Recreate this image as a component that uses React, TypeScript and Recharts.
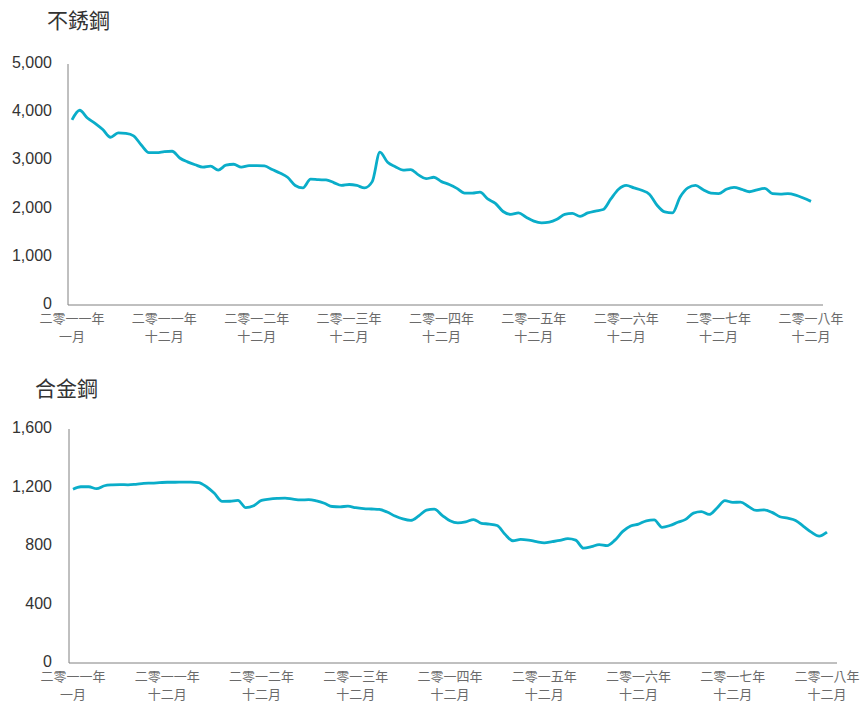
import { LineChart, Line, XAxis, YAxis } from 'recharts'

// monthly index 0..96, labelled every 12 months
const tickIdx = [0, 12, 24, 36, 48, 60, 72, 84, 96]
const yearLabels = [
  '二零一一年', '二零一一年', '二零一二年', '二零一三年', '二零一四年',
  '二零一五年', '二零一六年', '二零一七年', '二零一八年',
]
const monthLabels = ['一月', '十二月', '十二月', '十二月', '十二月', '十二月', '十二月', '十二月', '十二月']

const stainless = [
  3840, 4040, 3880, 3770, 3640, 3480, 3570, 3560, 3510, 3320, 3160, 3160,
  3180, 3190, 3050, 2970, 2910, 2860, 2880, 2800, 2900, 2920, 2860, 2890,
  2890, 2885, 2810, 2740, 2650, 2480, 2430, 2610, 2600, 2595, 2540, 2480,
  2500, 2480, 2430, 2560, 3170, 2960, 2870, 2800, 2810, 2700, 2620, 2650,
  2560, 2500, 2420, 2320, 2320, 2340, 2200, 2110, 1940, 1880, 1910, 1820,
  1740, 1705, 1720, 1780, 1880, 1900, 1840, 1910, 1950, 1980, 2200, 2400,
  2480, 2430, 2380, 2300, 2070, 1930, 1910, 2240, 2430, 2480, 2390, 2320,
  2310, 2400, 2440, 2400, 2350, 2390, 2420, 2310, 2300, 2310, 2280, 2220,
  2150,
]

const alloy = [
  1188, 1205, 1205, 1192, 1212, 1218, 1220, 1218, 1222, 1228, 1230, 1233,
  1236, 1236, 1237, 1237, 1234, 1205, 1160, 1105, 1106, 1112, 1062, 1075,
  1112, 1120, 1125, 1128, 1120, 1115, 1117, 1108, 1092, 1070, 1068, 1072,
  1062, 1056, 1053, 1050, 1032, 1005, 985, 975, 1005, 1045, 1052, 1010,
  972, 958, 965, 981, 955, 950, 940, 880, 836, 845, 840, 830,
  822, 830, 838, 850, 840, 785, 795, 810, 803, 840, 900, 937,
  950, 972, 978, 928, 940, 962, 982, 1025, 1035, 1016, 1060, 1110,
  1098, 1100, 1070, 1043, 1047, 1030, 1000, 990, 975, 935, 895, 868,
  895,
]

const stainlessTicks = [0, 1000, 2000, 3000, 4000, 5000]
const alloyTicks = [0, 400, 800, 1200, 1600]

const stainlessData = stainless.map((v, i) => ({ i, v }))
const alloyData = alloy.map((v, i) => ({ i, v }))

const LINE = '#0aadc9'
const AXIS = '#808080'

const XTick = ({ x, y, payload }: any) => {
  const k = tickIdx.indexOf(payload.value)
  return (
    <g>
      <text
        x={x}
        y={y + 9.5}
        textAnchor="middle"
        fill="#6a6a6a"
        fontSize={13}
        fontFamily="'Noto Sans CJK TC', sans-serif"
      >
        {yearLabels[k]}
      </text>
      <text
        x={x}
        y={y + 27.5}
        textAnchor="middle"
        fill="#6a6a6a"
        fontSize={13}
        fontFamily="'Noto Sans CJK TC', sans-serif"
      >
        {monthLabels[k]}
      </text>
    </g>
  )
}

const YTick = ({ x, y, payload }: any) => (
  <text
    x={x}
    y={y}
    dy={4}
    textAnchor="end"
    fill="#333"
    fontSize={16}
    fontFamily="'Liberation Sans', Arial, sans-serif"
  >
    {payload.value.toLocaleString('en-US')}
  </text>
)

const titleStyle: React.CSSProperties = {
  position: 'absolute',
  fontSize: 21,
  lineHeight: '21px',
  color: '#333',
  fontFamily: "'Noto Sans CJK TC', sans-serif",
  whiteSpace: 'nowrap',
}

export default function App() {
  return (
    <div style={{ position: 'absolute', left: 0, top: 0, width: 861, height: 702, background: '#fff' }}>
      <div style={{ ...titleStyle, left: 47, top: 9 }}>不銹鋼</div>
      <div style={{ ...titleStyle, left: 35, top: 377 }}>合金鋼</div>

      <div style={{ position: 'absolute', left: 0, top: 0 }}>
        <LineChart width={861} height={350} data={stainlessData} margin={{ top: 64, right: 38, left: 8, bottom: 0 }}>
          <XAxis
            dataKey="i"
            type="number"
            domain={[0, 96]}
            ticks={tickIdx}
            padding={{ left: 4, right: 12 }}
            height={45}
            stroke={AXIS}
            tickLine={false}
            tick={<XTick />}
            interval={0}
          />
          <YAxis
            domain={[0, 5000]}
            ticks={stainlessTicks}
            width={60}
            stroke={AXIS}
            tickLine={false}
            tickMargin={10}
            tick={<YTick />}
            interval={0}
          />
          <Line
            type="monotone"
            dataKey="v"
            stroke={LINE}
            strokeWidth={2.8}
            dot={false}
            isAnimationActive={false}
          />
        </LineChart>
      </div>

      <div style={{ position: 'absolute', left: 0, top: 360 }}>
        <LineChart width={861} height={342} data={alloyData} margin={{ top: 69, right: 24, left: 9, bottom: 0 }}>
          <XAxis
            dataKey="i"
            type="number"
            domain={[0, 96]}
            ticks={tickIdx}
            padding={{ left: 4, right: 10 }}
            height={39}
            stroke={AXIS}
            tickLine={false}
            tick={<XTick />}
            interval={0}
          />
          <YAxis
            domain={[0, 1600]}
            ticks={alloyTicks}
            width={60}
            stroke={AXIS}
            tickLine={false}
            tickMargin={11}
            tick={<YTick />}
            interval={0}
          />
          <Line
            type="monotone"
            dataKey="v"
            stroke={LINE}
            strokeWidth={2.8}
            dot={false}
            isAnimationActive={false}
          />
        </LineChart>
      </div>
    </div>
  )
}
